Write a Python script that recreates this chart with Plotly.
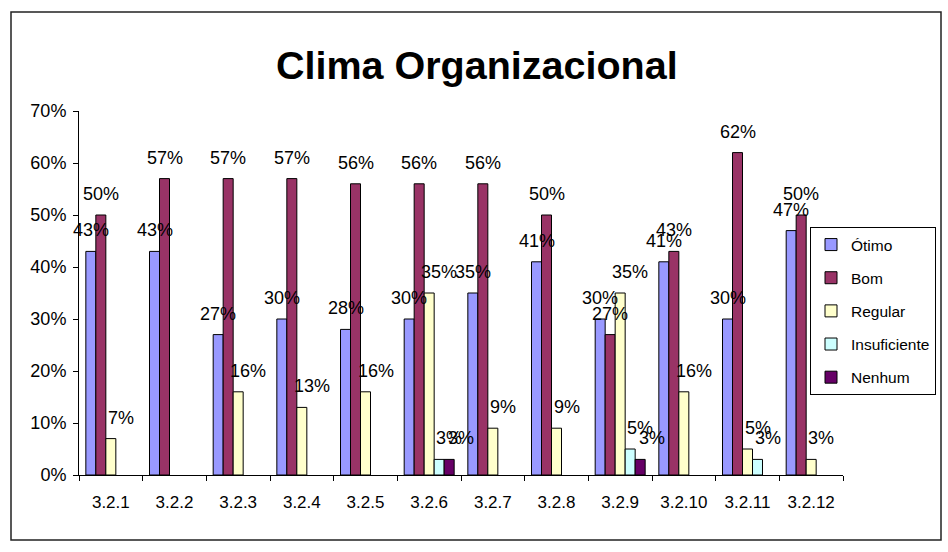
import plotly.graph_objects as go

# Survey items and answer distribution (% of respondents)
categories = ["3.2.1", "3.2.2", "3.2.3", "3.2.4", "3.2.5", "3.2.6",
              "3.2.7", "3.2.8", "3.2.9", "3.2.10", "3.2.11", "3.2.12"]

otimo = [43, 43, 27, 30, 28, 30, 35, 41, 30, 41, 30, 47]
bom = [50, 57, 57, 57, 56, 56, 56, 50, 27, 43, 62, 50]
regular = [7, None, 16, 13, 16, 35, 9, 9, 35, 16, 5, 3]
insuficiente = [None, None, None, None, None, 3, None, None, 5, None, 3, None]
nenhum = [None, None, None, None, None, 3, None, None, 3, None, None, None]

series_names = ["Ótimo", "Bom", "Regular", "Insuficiente", "Nenhum"]
series_values = [otimo, bom, regular, insuficiente, nenhum]
series_colors = ["#9999FF", "#993366", "#FFFFCC", "#CCFFFF", "#660066"]
label_dx = [0, 0, 10, 10, 12]

FONT = "Liberation Sans, Arial, sans-serif"
BAR_GAP = 0.215

fig = go.Figure()
for k, (name, vals, color) in enumerate(zip(series_names, series_values, series_colors)):
    fig.add_trace(go.Bar(
        name=name, x=categories, y=vals,
        marker=dict(color=color, line=dict(color="#000000", width=1)),
        legendgroup=name,
    ))

# value labels above each bar
n = len(series_names)
bw = (1 - BAR_GAP) / n
annotations = []
for k, vals in enumerate(series_values):
    for j, v in enumerate(vals):
        if v is None:
            continue
        annotations.append(dict(
            x=j - (1 - BAR_GAP) / 2 + (k + 0.5) * bw, y=v,
            xref="x", yref="y", text=f"{v}%", showarrow=False,
            yanchor="bottom", xanchor="center", yshift=9, xshift=label_dx[k],
            font=dict(family=FONT, size=18, color="#000000"),
        ))

fig.update_layout(
    width=948, height=552,
    margin=dict(l=79, r=105, t=111, b=77, autoexpand=False),
    paper_bgcolor="#FFFFFF", plot_bgcolor="#FFFFFF",
    barmode="group", bargap=BAR_GAP, bargroupgap=0,
    font=dict(family=FONT, color="#000000"),
    title=dict(text="<b>Clima Organizacional</b>", x=0.503, xanchor="center",
               xref="container", y=0.882, yref="container", yanchor="middle",
               font=dict(family=FONT, size=39.5, color="#000000")),
    xaxis=dict(type="category", range=[-0.5, len(categories) - 0.5],
               showline=True, linecolor="#000000", linewidth=1,
               ticks="outside", tickson="boundaries", ticklen=5, tickcolor="#000000",
               showgrid=False, tickfont=dict(size=17), ticklabelstandoff=12,
               automargin=False),
    yaxis=dict(range=[0, 70], dtick=10, ticksuffix="%", showline=True,
               linecolor="#000000", linewidth=1, ticks="outside", ticklen=5,
               tickcolor="#000000", showgrid=False, zeroline=False,
               tickfont=dict(size=18), ticklabelstandoff=3, automargin=False),
    legend=dict(xref="container", yref="container",
                x=810 / 948, y=1 - 227 / 552, xanchor="left", yanchor="top",
                bgcolor="#FFFFFF", bordercolor="#000000", borderwidth=1,
                font=dict(size=15.5), tracegroupgap=10, traceorder="grouped"),
    annotations=annotations,
    shapes=[dict(type="rect", xref="paper", yref="paper",
                 x0=(11 - 79) / 764, x1=(941 - 79) / 764,
                 y0=(475 - 540) / 364, y1=(475 - 12) / 364,
                 line=dict(color="#222222", width=1.5), fillcolor="rgba(0,0,0,0)",
                 layer="below")],
)

fig.write_html("out.html")
